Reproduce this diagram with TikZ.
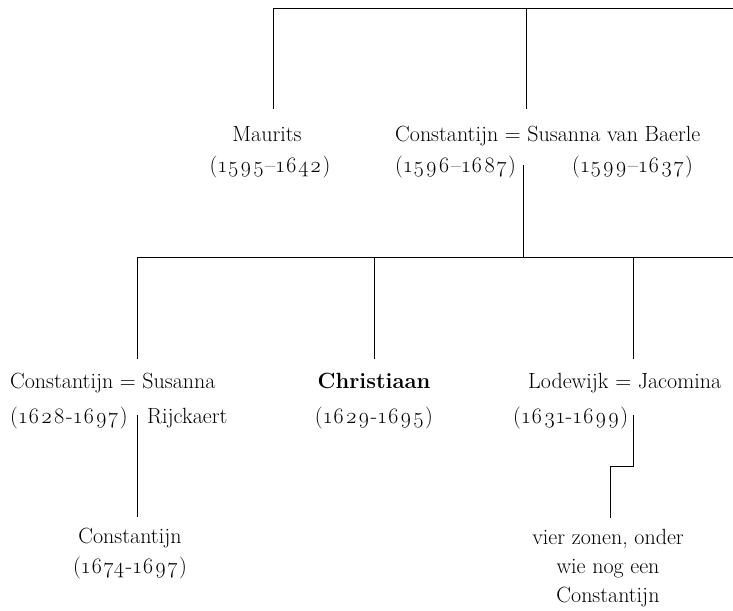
\documentclass[tikz,border=0pt]{standalone}
\usepackage{fontspec}
\setmainfont{Latin Modern Roman}[Numbers=OldStyle]
\tikzset{
  person/.style={inner sep=0pt, font=\fontsize{22}{29}\selectfont, anchor=base west},
  personmid/.style={person, anchor=base},
  years/.style={person, font=\fontsize{22}{29}\selectfont\addfontfeature{LetterSpace=5}},
  yearsmid/.style={years, anchor=base},
  kin/.style={line width=0.7pt},
}

\begin{document}
\begin{tikzpicture}[x=1pt, y=-1pt]
    \useasboundingbox (0,0) rectangle (733,610);
    % first generation
    \node[personmid] (maurits) at (267,141) {Maurits};
    \node[yearsmid] (mauritsd) at (270,172) {(1595–1642)};
    \node[person] (huygens) at (395,141) {Constantijn = Susanna van Baerle};
    \node[years] (huygensd) at (395,172) {(1596–1687)};
    \node[years] (baerled) at (572,172) {(1599–1637)};
    % second generation
    \node[person] (const) at (10,388) {Constantijn = Susanna};
    \node[years] (constd) at (10,423) {(1628-1697)};
    \node[person] (rijck) at (147,423) {Rijckaert};
    \node[personmid] (chris) at (374,388) {\textbf{Christiaan}};
    \node[yearsmid] (chrisd) at (374,423) {(1629-1695)};
    \node[person] (lode) at (528,388) {Lodewijk = Jacomina};
    \node[years] (loded) at (513,423) {(1631-1699)};
    % third generation
    \node[personmid] (constjr) at (130,543) {Constantijn};
    \node[yearsmid] (constjrd) at (130,573) {(1674-1697)};
    \node[personmid, align=center] (zonen) at (608,602) {vier zonen, onder\\ wie nog een\\ Constantijn};
    % junctions
    \coordinate (top0) at (273,8);
    \coordinate (top1) at (526,8);
    \coordinate (topR) at (733,8);
    \coordinate (maur0) at (273,109);
    \coordinate (huy0) at (526,109);
    \coordinate (huy1) at (523,165);
    \coordinate (kids) at (523,257);
    \coordinate (kidsL) at (137,257);
    \coordinate (kidsM) at (374,257);
    \coordinate (kidsN) at (633,257);
    \coordinate (kidsR) at (733,257);
    \coordinate (const0) at (137,359);
    \coordinate (chris0) at (374,359);
    \coordinate (lode0) at (633,359);
    \coordinate (const1) at (137,415);
    \coordinate (constjr0) at (137,517);
    \coordinate (lode1) at (633,415);
    \coordinate (lode2) at (633,466);
    \coordinate (zonen1) at (610,466);
    \coordinate (zonen0) at (610,518);
    \draw[kin] (top0) -- (topR);
    \draw[kin] (top0) -- (maur0);
    \draw[kin] (top1) -- (huy0);
    \draw[kin] (huy1) -- (kids);
    \draw[kin] (kidsL) -- (kidsR);
    \draw[kin] (kidsL) -- (const0);
    \draw[kin] (kidsM) -- (chris0);
    \draw[kin] (kidsN) -- (lode0);
    \draw[kin] (const1) -- (constjr0);
    \draw[kin] (lode1) -- (lode2) -- (zonen1) -- (zonen0);
\end{tikzpicture}
\end{document}
